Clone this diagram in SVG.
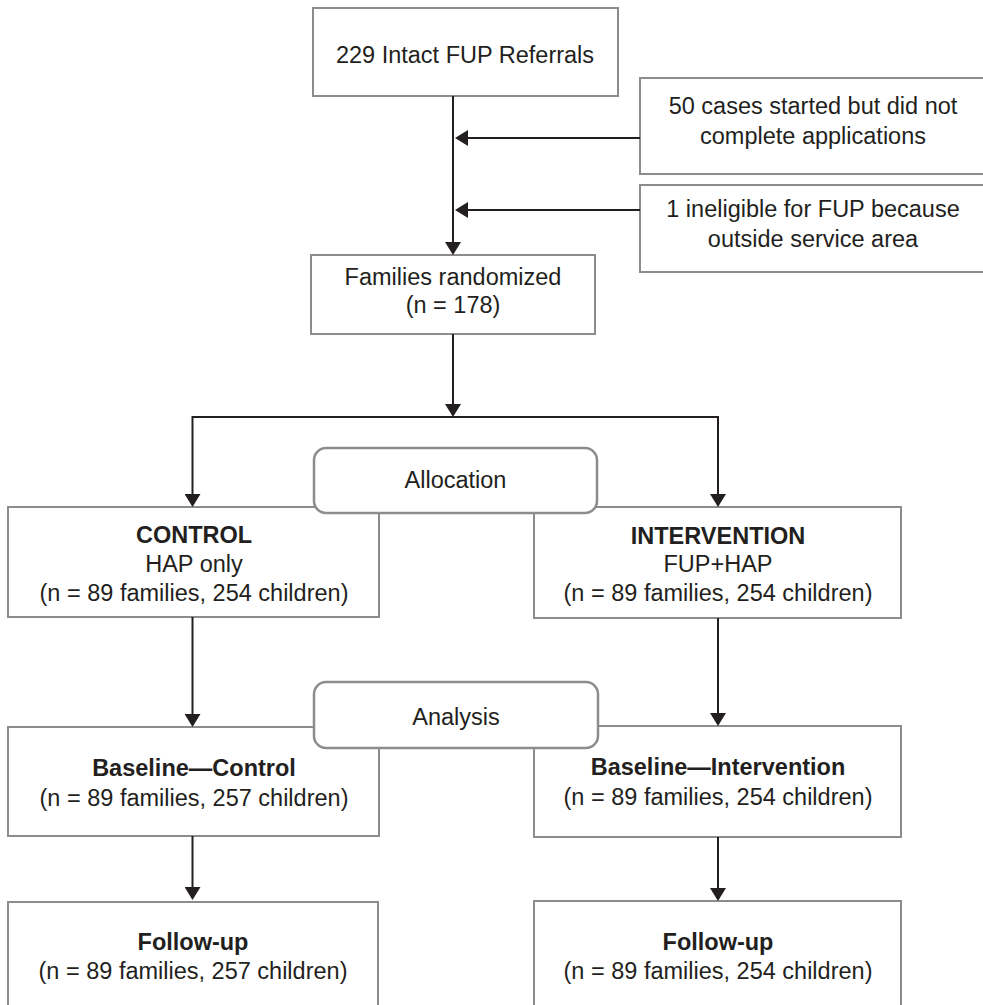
<svg xmlns="http://www.w3.org/2000/svg" width="983" height="1005" viewBox="0 0 983 1005">
<style>
.box{fill:#fff;stroke:#8c8c8c;stroke-width:2}
.rbox{fill:#fff;stroke:#8c8c8c;stroke-width:2.5}
.t{font-family:"Liberation Sans",Arial,Helvetica,sans-serif;font-size:23.5px;fill:#231f20;text-anchor:middle}
.b{font-weight:bold}
.c{fill:none;stroke:#231f20;stroke-width:2}
</style>
<defs>
<marker id="ah" viewBox="0 0 13 16" refX="5" refY="8" markerWidth="13" markerHeight="16" markerUnits="userSpaceOnUse" orient="auto-start-reverse">
<path d="M0,0 L13,8 L0,16 z" fill="#231f20"/>
</marker>
</defs>
<rect width="983" height="1005" fill="#fff"/>

<g id="referrals">
<rect class="box" x="313" y="8" width="305" height="88"/>
<text class="t" x="465" y="63">229 Intact FUP Referrals</text>
</g>

<g id="excl-incomplete">
<rect class="box" x="640" y="78" width="346" height="96"/>
<text class="t" x="813" y="114">50 cases started but did not</text>
<text class="t" x="813" y="144">complete applications</text>
</g>

<g id="excl-ineligible">
<rect class="box" x="640" y="185" width="346" height="87"/>
<text class="t" x="813" y="217">1 ineligible for FUP because</text>
<text class="t" x="813" y="247">outside service area</text>
</g>

<g id="randomized">
<rect class="box" x="311" y="255" width="284" height="79"/>
<text class="t" x="453" y="285">Families randomized</text>
<text class="t" x="453" y="313">(n = 178)</text>
</g>

<g id="control">
<rect class="box" x="8" y="507" width="371" height="110"/>
<text class="t b" x="194" y="543">CONTROL</text>
<text class="t" x="194" y="572">HAP only</text>
<text class="t" x="194" y="601">(n = 89 families, 254 children)</text>
</g>

<g id="intervention">
<rect class="box" x="534" y="507" width="367" height="111"/>
<text class="t b" x="718" y="544">INTERVENTION</text>
<text class="t" x="718" y="572">FUP+HAP</text>
<text class="t" x="718" y="601">(n = 89 families, 254 children)</text>
</g>

<g id="baseline-control">
<rect class="box" x="8" y="727" width="371" height="109"/>
<text class="t b" x="194" y="776">Baseline—Control</text>
<text class="t" x="194" y="806">(n = 89 families, 257 children)</text>
</g>

<g id="baseline-intervention">
<rect class="box" x="534" y="726" width="367" height="111"/>
<text class="t b" x="718" y="775">Baseline—Intervention</text>
<text class="t" x="718" y="805">(n = 89 families, 254 children)</text>
</g>

<g id="followup-control">
<rect class="box" x="8" y="902" width="370" height="120"/>
<text class="t b" x="193" y="950">Follow-up</text>
<text class="t" x="193" y="979">(n = 89 families, 257 children)</text>
</g>

<g id="followup-intervention">
<rect class="box" x="534" y="901" width="367" height="120"/>
<text class="t b" x="718" y="950">Follow-up</text>
<text class="t" x="718" y="979">(n = 89 families, 254 children)</text>
</g>

<g id="connectors">
<path class="c" d="M453,96 V247" marker-end="url(#ah)"/>
<path class="c" d="M640,138 H463" marker-end="url(#ah)"/>
<path class="c" d="M640,210 H463" marker-end="url(#ah)"/>
<path class="c" d="M453,334 V409" marker-end="url(#ah)"/>
<path class="c" d="M192.5,499 V417 H718 V499" marker-start="url(#ah)" marker-end="url(#ah)"/>
<path class="c" d="M192.5,617 V719" marker-end="url(#ah)"/>
<path class="c" d="M718,618 V718" marker-end="url(#ah)"/>
<path class="c" d="M192.5,836 V892" marker-end="url(#ah)"/>
<path class="c" d="M718,837 V893" marker-end="url(#ah)"/>
</g>

<g id="allocation">
<rect class="rbox" x="314" y="448" width="283" height="65" rx="12"/>
<text class="t" x="455.5" y="488">Allocation</text>
</g>

<g id="analysis">
<rect class="rbox" x="314" y="682" width="284" height="66" rx="12"/>
<text class="t" x="456" y="725">Analysis</text>
</g>
</svg>
